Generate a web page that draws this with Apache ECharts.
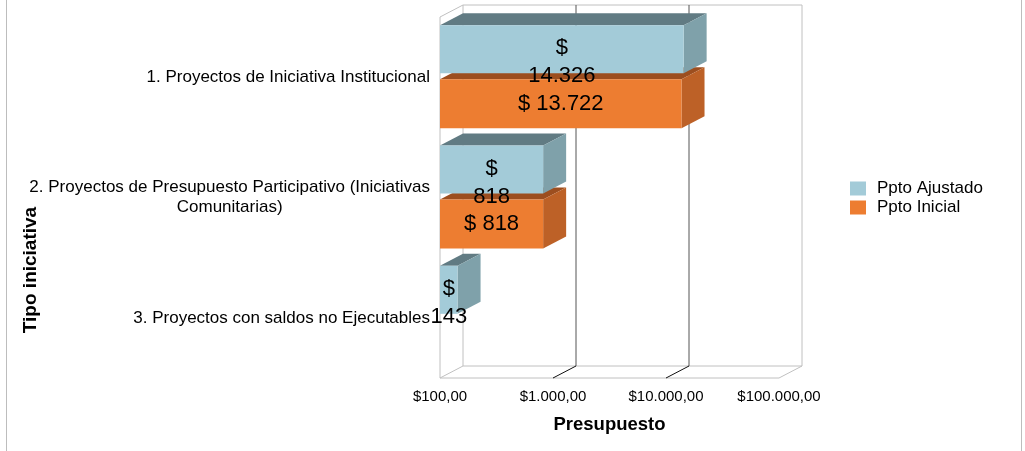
<!DOCTYPE html>
<html>
<head>
<meta charset="utf-8">
<script src="https://cdn.jsdelivr.net/npm/echarts@6/dist/echarts.min.js"></script>
<style>
  html, body { margin: 0; padding: 0; background: #fff; }
  #main { width: 1025px; height: 451px; }
</style>
</head>
<body>
<div id="main"></div>
<script>
// datos del grafico
var categorias = [
    '1. Proyectos de Iniciativa Institucional',
    '2. Proyectos de Presupuesto Participativo (Iniciativas\nComunitarias)',
    '3. Proyectos con saldos no Ejecutables'
];
var pptoAjustado = [14326, 818, 143];
var pptoInicial = [13722, 818, null];
var ticksX = [100, 1000, 10000, 100000];

// efecto 3D: desplazamiento del plano de fondo
var DX = 23, DY = -12;
var FONT = 'Liberation Sans, Arial, sans-serif';

function miles(v) {
    return String(Math.round(v)).replace(/\B(?=(\d{3})+(?!\d))/g, '.');
}

var colores = {
    ajustado: { front: '#a3cbd8', top: '#617b83', side: '#7fa1aa' },
    inicial: { front: '#ed7d31', top: '#9c4e1f', side: '#bd6127' }
};

function barra(c, offsetY, alto, conSalto) {
    return function (params, api) {
        var cat = api.value(1);
        var val = api.value(0);
        if (val == null || isNaN(val)) return;
        var x0 = api.coord([ticksX[0], cat])[0];
        var p = api.coord([val, cat]);
        var x1 = p[0];
        var yTop = p[1] + offsetY;
        var yBot = yTop + alto;
        var txt = conSalto ? '$\n' + miles(val) : '$ ' + miles(val);
        return {
            type: 'group',
            children: [
                { type: 'polygon', shape: { points: [[x0, yTop], [x0 + DX, yTop + DY], [x1 + DX, yTop + DY], [x1, yTop]] }, style: { fill: c.top } },
                { type: 'polygon', shape: { points: [[x1, yTop], [x1 + DX, yTop + DY], [x1 + DX, yBot + DY], [x1, yBot]] }, style: { fill: c.side } },
                { type: 'rect', shape: { x: x0, y: yTop, width: x1 - x0, height: alto }, style: { fill: c.front } },
                {
                    type: 'text',
                    style: {
                        text: txt, x: (x0 + x1) / 2, y: conSalto ? yTop + alto / 2 + 13 : yTop + alto / 2,
                        align: 'center', verticalAlign: 'middle',
                        font: '22px ' + FONT, lineHeight: 28, fill: '#000'
                    }
                }
            ]
        };
    };
}

function marco(params, api) {
    var cs = params.coordSys;
    var top = cs.y, bottom = cs.y + cs.height, right = cs.x + cs.width;
    var tick = api.value(0);
    var x = api.coord([tick, 0])[0];
    var borde = (tick === ticksX[0] || tick === ticksX[ticksX.length - 1]);
    var claro = { stroke: '#c0c0c0', lineWidth: 1 };
    var hijos = [
        { type: 'line', shape: { x1: x + DX, y1: top + DY, x2: x + DX, y2: bottom + DY }, style: borde ? claro : { stroke: '#555', lineWidth: 1 } },
        { type: 'line', shape: { x1: x, y1: bottom, x2: x + DX, y2: bottom + DY }, style: borde ? claro : { stroke: '#111', lineWidth: 1 } }
    ];
    if (params.dataIndex === 0) {
        hijos.push(
            { type: 'line', shape: { x1: x, y1: top, x2: x, y2: bottom }, style: claro },
            { type: 'line', shape: { x1: x, y1: top, x2: x + DX, y2: top + DY }, style: claro },
            { type: 'line', shape: { x1: x + DX, y1: top + DY, x2: right + DX, y2: top + DY }, style: claro },
            { type: 'line', shape: { x1: x, y1: bottom, x2: right, y2: bottom }, style: claro },
            { type: 'line', shape: { x1: x + DX, y1: bottom + DY, x2: right + DX, y2: bottom + DY }, style: claro }
        );
    }
    return { type: 'group', children: hijos };
}

var myChart = echarts.init(document.getElementById('main'));

var option = {
    animation: false,
    textStyle: { fontFamily: FONT },
    grid: { left: 440, top: 17, width: 339, height: 361 },
    legend: {
        orient: 'vertical', left: 845, top: 175,
        itemWidth: 16, itemHeight: 14, itemGap: 2, icon: 'rect',
        textStyle: { fontSize: 17, color: '#000', fontFamily: FONT, padding: [0, 0, 0, 6] },
        data: ['Ppto Ajustado', 'Ppto Inicial']
    },
    xAxis: {
        type: 'log', logBase: 10, min: 100, max: 100000,
        axisLine: { show: false }, axisTick: { show: false }, splitLine: { show: false },
        axisLabel: {
            margin: 11, fontSize: 15, color: '#000', fontFamily: FONT,
            formatter: function (v) { return '$' + miles(v) + ',00'; }
        },
        name: 'Presupuesto', nameLocation: 'middle', nameGap: 37,
        nameTextStyle: { fontSize: 18.5, fontWeight: 'bold', color: '#000', fontFamily: FONT }
    },
    yAxis: {
        type: 'category', inverse: true, data: categorias,
        axisLine: { show: false }, axisTick: { show: false }, splitLine: { show: false },
        axisLabel: {
            margin: 10, color: '#000', fontSize: 17, fontFamily: FONT, lineHeight: 20,
            formatter: function (v) {
                return v.split('\n').map(function (l) { return '{c|' + l + '}'; }).join('\n');
            },
            rich: { c: { align: 'center', fontSize: 17, lineHeight: 20, color: '#000', fontFamily: FONT } }
        }
    },
    graphic: [
        { type: 'line', shape: { x1: 6.5, y1: 0, x2: 6.5, y2: 451 }, style: { stroke: '#bdbdbd', lineWidth: 1 } },
        { type: 'line', shape: { x1: 1021.5, y1: 0, x2: 1021.5, y2: 451 }, style: { stroke: '#bdbdbd', lineWidth: 1 } },
        {
            type: 'text', x: 31, y: 270, rotation: Math.PI / 2,
            style: { text: 'Tipo iniciativa', align: 'center', verticalAlign: 'middle', font: 'bold 19px ' + FONT, fill: '#000' }
        }
    ],
    series: [
        {
            name: 'marco', type: 'custom', z: 1, silent: true,
            renderItem: marco,
            data: ticksX.map(function (t) { return [t, 0]; })
        },
        {
            name: 'Ppto Inicial', type: 'custom', z: 2,
            itemStyle: { color: colores.inicial.front },
            renderItem: barra(colores.inicial, 2, 49, false),
            encode: { x: 0, y: 1 },
            data: pptoInicial.map(function (v, i) { return [v, i]; })
        },
        {
            name: 'Ppto Ajustado', type: 'custom', z: 3,
            itemStyle: { color: colores.ajustado.front },
            renderItem: barra(colores.ajustado, -52, 48, true),
            encode: { x: 0, y: 1 },
            data: pptoAjustado.map(function (v, i) { return [v, i]; })
        }
    ]
};

myChart.setOption(option);
</script>
</body>
</html>
